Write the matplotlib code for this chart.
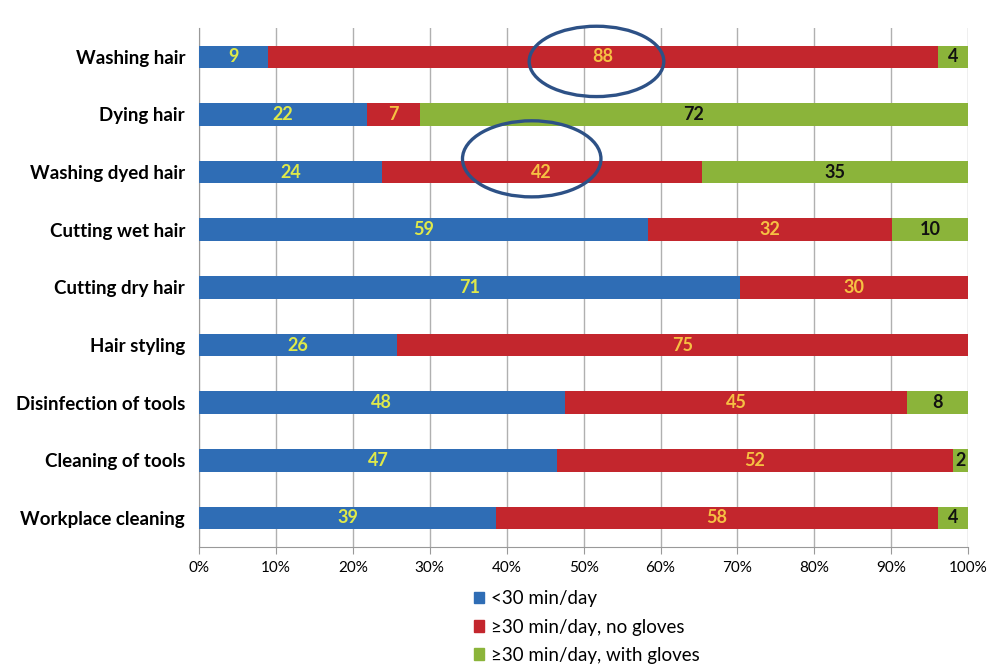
import matplotlib.pyplot as plt
import numpy as np
from matplotlib.patches import Ellipse, Patch
from matplotlib.ticker import PercentFormatter

tasks = ["Washing hair", "Dying hair", "Washing dyed hair", "Cutting wet hair",
         "Cutting dry hair", "Hair styling", "Disinfection of tools",
         "Cleaning of tools", "Workplace cleaning"]
short = [9, 22, 24, 59, 71, 26, 48, 47, 39]
no_gloves = [88, 7, 42, 32, 30, 75, 45, 52, 58]
gloves = [4, 72, 35, 10, 0, 0, 8, 2, 4]
series_names = ["<30 min/day", "≥30 min/day, no gloves", "≥30 min/day, with gloves"]
colors = ["#2f6db5", "#c3262d", "#8bb43a"]
label_colors = ["#dfe94a", "#f6c143", "#111111"]

plt.rcParams["font.family"] = ["Lato", "DejaVu Sans"]

fig = plt.figure(figsize=(9.9, 6.66), dpi=100)
ax = fig.add_axes([0.201, 0.179, 0.777, 0.779])

data = np.array([short, no_gloves, gloves], dtype=float)
totals = data.sum(axis=0)
shares = data / totals * 100
y = np.arange(len(tasks))

left = np.zeros(len(tasks))
for vals, share, col, lcol, name in zip(data, shares, colors, label_colors, series_names):
    ax.barh(y, share, left=left, height=0.39, color=col, label=name, zorder=3)
    for yi, v, s, l in zip(y, vals, share, left):
        if v > 0:
            ax.text(l + s / 2, yi, f"{v:.0f}", ha="center", va="center",
                    color=lcol, fontsize=13, fontweight="bold", zorder=4)
    left += share

ax.set_xlim(0, 100)
ax.set_ylim(len(tasks) - 0.5, -0.5)
ax.set_yticks(y)
ax.set_yticklabels(tasks, fontsize=13.5, fontweight="bold")
ax.set_xticks(np.arange(0, 101, 10))
ax.xaxis.set_major_formatter(PercentFormatter(decimals=0))
ax.tick_params(axis="x", labelsize=11, length=5, color="#999999", pad=5)
ax.tick_params(axis="y", length=0, pad=10)
ax.grid(axis="x", color="#b0b0b0", linewidth=1, zorder=0)
for side in ["top", "right"]:
    ax.spines[side].set_visible(False)
for side in ["left", "bottom"]:
    ax.spines[side].set_color("#999999")

# highlight the two no-glove washing values
circle_style = dict(fill=False, edgecolor="#2d5186", linewidth=2.4, zorder=5, clip_on=False)
x88 = shares[0, 0] + shares[1, 0] / 2
x42 = shares[0, 2] + shares[1, 2] / 2
ax.add_patch(Ellipse((x88 - 0.8, 0.08), 17.5, 1.22, **circle_style))
ax.add_patch(Ellipse((x42 - 1.3, 1.77), 18.0, 1.32, **circle_style))

handles = [Patch(color=c) for c in colors]
fig.legend(handles, series_names, loc="upper left", bbox_to_anchor=(0.471, 0.125),
           frameon=False, fontsize=13.5, handlelength=0.55, handleheight=0.55,
           handletextpad=0.35, labelspacing=0.6, borderaxespad=0)

fig.savefig("out.png", dpi=100)
